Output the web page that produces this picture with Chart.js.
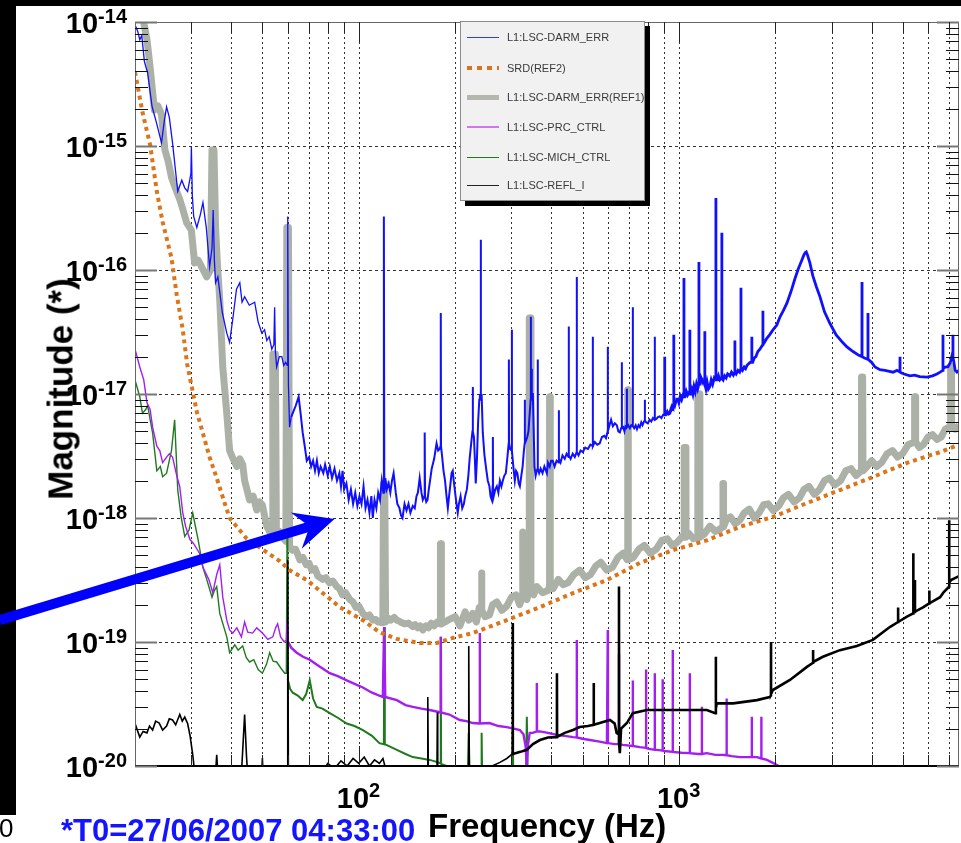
<!DOCTYPE html>
<html>
<head>
<meta charset="utf-8">
<script src="https://cdn.jsdelivr.net/npm/chart.js@4.4.1/dist/chart.umd.min.js"></script>
<style>
  html, body { margin: 0; padding: 0; background: #fff; }
  #wrap { position: relative; width: 961px; height: 843px; overflow: hidden; font-family: "Liberation Sans", Arial, sans-serif; }
  #bandL { position: absolute; left: 0; top: 0; width: 16px; height: 815px; background: #000; }
  #bandT { position: absolute; left: 0; top: 0; width: 961px; height: 6px; background: #000; }
  #c { position: absolute; left: 0; top: 0; }
  #legend { position: absolute; left: 460px; top: 21px; width: 183px; height: 178px; background: #f1f1f1;
            border: 1px solid #8c8c8c; box-shadow: 5px 5px 0 #000; }
  .row { position: absolute; left: 0; height: 14px; width: 183px; }
  .row .smp { position: absolute; left: 6px; width: 32px; }
  .row span { position: absolute; left: 46px; top: 0; font-size: 11px; line-height: 14px; color: #3a3a3a; white-space: nowrap; }
  .txt { position: absolute; white-space: nowrap; font-weight: bold; }
</style>
</head>
<body>
<div id="wrap">
  <div id="bandL"></div>
  <div id="bandT"></div>
  <canvas id="c" width="961" height="843"></canvas>
  <div id="legend"></div>
  <div class="txt" style="left:-1px;top:815px;font-size:26px;line-height:26px;font-weight:normal;color:#000;">0</div>
  <div class="txt" style="left:61px;top:815px;font-size:31px;line-height:31px;color:#1414ff;">*T0=27/06/2007 04:33:00</div>
  <div class="txt" style="left:428px;top:809px;font-size:33px;line-height:33px;color:#000;">Frequency (Hz)</div>
  <div class="txt" id="ytitle" style="left:60px;top:389px;font-size:35px;line-height:35px;color:#000;transform:translate(-50%,-50%) rotate(-90deg);">Magnitude (*)</div>
</div>
<script>
// series names (legend order)
const seriesNames = ['L1:LSC-DARM_ERR', 'SRD(REF2)', 'L1:LSC-DARM_ERR(REF1)', 'L1:LSC-PRC_CTRL', 'L1:LSC-MICH_CTRL', 'L1:LSC-REFL_I'];

// ticks
const xGrid = [30, 40, 50, 60, 70, 80, 90, 100, 200, 300, 400, 500, 600, 700, 800, 900, 1000, 2000, 3000, 4000, 5000, 6000, 7000];
const xLabelTicks = [100, 1000];
const xLabelExp = ['2', '3'];
const yDecades = [1e-20, 1e-19, 1e-18, 1e-17, 1e-16, 1e-15, 1e-14];
const yLabelExp = ['-20', '-19', '-18', '-17', '-16', '-15', '-14'];

// [frequency Hz, magnitude]
const darmErr = [
  [20,9.5e-15],[20.4,8.4e-15],[20.7,7.2e-15],[21.0,7.8e-15],[21.4,4.8e-15],[21.9,3.9e-15],[22.6,2.1e-15],[23.4,1.5e-15],[24.2,1.06e-15],[24.7,1.6e-15],
  [25.1,2.07e-15],[25.6,1.7e-15],[26.2,1.06e-15],[27.2,4.3e-16],[28.0,5.3e-16],[28.6,4.6e-16],[29.2,4.3e-16],[29.9,6e-16],[30.0,9.8e-16],[30.2,4e-16],
  [30.5,2.7e-16],[31.2,2.2e-16],[32.0,2.8e-16],[32.6,3.5e-16],[33.4,2.2e-16],[34.2,1.06e-16],[34.8,1.5e-16],[35.1,3.05e-16],[35.4,1.2e-16],[35.7,7.9e-17],
  [36.3,8.8e-17],[37.5,4.5e-17],[38.7,3.1e-17],[39.5,2.6e-17],[40.5,4.2e-17],[41.5,7e-17],[42.5,7.9e-17],[43.2,5.5e-17],[44.0,6.1e-17],[45.5,5.2e-17],
  [47.3,5.5e-17],[48.5,3.8e-17],[49.8,3.1e-17],[50.8,3.3e-17],[51.6,2.7e-17],[52.5,2.9e-17],[53.5,2.3e-17],[54.3,2.5e-17],[54.6,5.0e-17],[54.9,2.2e-17],
  [55.4,1.65e-17],[56.5,2.0e-17],[57.5,2.0e-17],[58.3,1.7e-17],[59.1,1.8e-17],[59.8,1.7e-17],[60.0,2.7e-16],[60.3,1.2e-17],[60.8,5.4e-18],[61.5,6.5e-18],
  [62.2,7.0e-18],[63.5,8e-18],[64.9,9.5e-18],[65.8,7e-18],[66.8,4.9e-18],[67.8,3.8e-18],[68.8,2.9e-18],[70,3.1e-18],[71,2.6e-18],[72,2.9e-18],
  [73,2.4e-18],[74,2.9e-18],[75,2.3e-18],[76,2.6e-18],[77.5,2.3e-18],[78.5,2.7e-18],[80,2.2e-18],[81.2,2.6e-18],[82.5,2.1e-18],[84,2.5e-18],
  [85.5,2.0e-18],[87,2.3e-18],[88,1.8e-18],[89,2.4e-18],[90,1.7e-18],[91.5,1.9e-18],[93,1.4e-18],[94.5,1.7e-18],[96,1.3e-18],[97.5,1.6e-18],
  [99,1.25e-18],[100.5,1.5e-18],[102,1.3e-18],[103.5,1.8e-18],[105,1.2e-18],[106.5,1.4e-18],[108,1.1e-18],[109.5,1.5e-18],[110.6,1.0e-18],[112,1.4e-18],
  [113.5,1.2e-18],[115,1.6e-18],[116.5,1.4e-18],[118,2.0e-18],[119.4,1.6e-18],[119.8,2.7e-16],[120.2,1.6e-18],[121,2.1e-18],[122.3,1.7e-18],[124,1.9e-18],
  [125.5,1.6e-18],[127,2.0e-18],[128.5,2.3e-18],[130.5,1.6e-18],[132,1.3e-18],[134,1.2e-18],[135.5,1.05e-18],[137,1.0e-18],[139,1.3e-18],[141,1.15e-18],
  [143,1.3e-18],[145,1.1e-18],[147.5,1.25e-18],[149.6,1.2e-18],[151.5,1.5e-18],[153,1.6e-18],[155,2.1e-18],[157,1.6e-18],[158.5,1.4e-18],[160.3,1.5e-18],
  [160.7,4.9e-18],[161.1,1.5e-18],[162.5,1.35e-18],[164,1.4e-18],[165.5,1.7e-18],[167,2.0e-18],[169,2.5e-18],[172,3.0e-18],[175,4.0e-18],[177,3.5e-18],
  [179,3.6e-18],[180.1,3.8e-18],[180.4,4.5e-17],[180.7,3.8e-18],[182,3.2e-18],[184,2.4e-18],[186,2.0e-18],[188,1.5e-18],[189.8,1.2e-18],[191.5,1.5e-18],
  [193,1.8e-18],[195,2.3e-18],[196.6,2.4e-18],[198,2.0e-18],[200,1.6e-18],[202,1.3e-18],[203.8,1.1e-18],[205.5,1.3e-18],[208,1.5e-18],[210.5,1.2e-18],
  [213,1.3e-18],[215,1.5e-18],[217.6,1.7e-18],[220,2.2e-18],[222,3.0e-18],[224.5,4.0e-18],[226.6,5e-18],[227,1.14e-17],[227.4,5e-18],[229,4.5e-18],
  [230.5,3e-18],[232,1.9e-18],[234,3e-18],[236,6e-18],[238,9e-18],[239,1.0e-17],[240.2,9e-18],[240.5,1.75e-16],[240.8,9e-18],[242,1.0e-17],
  [244,4.9e-18],[247,3.2e-18],[250,2.5e-18],[253,2.0e-18],[256,1.8e-18],[258,1.5e-18],[260.4,1.4e-18],[262,1.8e-18],[262.4,4.5e-18],[262.8,1.7e-18],
  [264,1.5e-18],[267,1.7e-18],[270,1.8e-18],[273,1.6e-18],[276,2.0e-18],[279,1.8e-18],[281.8,2.0e-18],[285,2.2e-18],[288,2.3e-18],[291,3.0e-18],
  [294,4e-18],[294.4,1.9e-17],[294.8,4e-18],[297,3.6e-18],[300.3,3.5e-18],[300.7,3.3e-17],[301.1,3.5e-18],[304,2.6e-18],[307.3,2.0e-18],[310,2.4e-18],
  [313,2.3e-18],[316,1.9e-18],[318.6,1.8e-18],[322,2.2e-18],[325,2.6e-18],[328,3.5e-18],[329.9,4e-18],[330.2,9e-18],[330.5,4e-18],[333,4.2e-18],
  [336,4.5e-18],[339,5e-18],[342,7e-18],[344.3,9e-18],[344.7,4.2e-17],[345.1,9e-18],[346.6,1e-17],[347,1.6e-17],[347.4,1e-17],[349.8,1.0e-17],
  [352,5e-18],[354,2.6e-18],[357,2.2e-18],[359.7,2.4e-18],[361.9,2.5e-18],[362.3,1.9e-17],[362.7,2.5e-18],[366,2.3e-18],[370,2.5e-18],[375,2.3e-18],
  [380,2.6e-18],[386.9,2.3e-18],[390,2.8e-18],[395,2.6e-18],[399,2.9e-18],[403.6,2.9e-18],[409,2.6e-18],[415,2.9e-18],[421.3,2.8e-18],[421.7,7.4e-18],
  [422.1,3.0e-18],[427,2.8e-18],[433,3.2e-18],[440,3.0e-18],[446,3.3e-18],[452.5,3.1e-18],[452.9,3.5e-17],[453.3,3.2e-18],[459,3.0e-18],[466,3.3e-18],
  [473,3.1e-18],[479.4,3.4e-18],[479.8,8.8e-17],[480.2,3.4e-18],[486,3.2e-18],[493,3.5e-18],[501,3.4e-18],[510,3.7e-18],[520,3.6e-18],[529,3.9e-18],
  [538,3.8e-18],[538.4,2.9e-17],[538.8,3.8e-18],[546,4.1e-18],[556,3.9e-18],[566,4.0e-18],[575,4.5e-18],[585,4.6e-18],[592,4.4e-18],[599.3,5e-18],
  [599.7,2.4e-17],[600.1,5e-18],[606,5.5e-18],[614,6.2e-18],[622,5.5e-18],[631,5.8e-18],[640,5.6e-18],[647,5.0e-18],[654,4.9e-18],[660,5.3e-18],
  [663.2,5.3e-18],[663.6,1.8e-17],[664,5.3e-18],[670,5.4e-18],[676,5e-18],[681,5.5e-18],[687.6,5.4e-18],[688,1.1e-17],[688.4,5.4e-18],[695,5.6e-18],
  [703,5.3e-18],[710,5.6e-18],[717.6,5.5e-18],[718,5e-17],[718.4,5.5e-18],[725,5.3e-18],[733,5.6e-18],[740,5.2e-18],[748,5.6e-18],[755,5.4e-18],
  [763,5.9e-18],[770,5.6e-18],[778,6e-18],[782.6,6.1e-18],[783,9e-18],[783.4,6.1e-18],[791,5.9e-18],[800,5.8e-18],[810,6.2e-18],[820,6.0e-18],
  [830,6.4e-18],[840.6,6.2e-18],[841,2.9e-17],[841.4,6.2e-18],[850,6.3e-18],[860,6.5e-18],[871,6.6e-18],[882,6.4e-18],[893,6.8e-18],[902.6,6.8e-18],
  [903,2.0e-17],[903.4,6.8e-18],[910,6.8e-18],[920,7.2e-18],[928,6.9e-18],[937,7.0e-18],[945,7.6e-18],[952,8e-18],[958,7.8e-18],[963.6,8e-18],
  [964,3.0e-17],[964.4,8.2e-18],[970,8.0e-18],[980,8.8e-18],[986,9.1e-18],[992,9.1e-18],[1000,8.5e-18],[1010,9.6e-18],[1020,9e-18],[1030,9.8e-18],
  [1036.6,9.5e-18],[1037,8.6e-17],[1037.4,9.5e-18],[1045,9.5e-18],[1055,1.05e-17],[1065,9.8e-18],[1074,1.02e-17],[1081.6,1.0e-17],[1082,3.3e-17],[1082.4,1.0e-17],
  [1090,1.0e-17],[1098,1.08e-17],[1106,1.0e-17],[1115,1.15e-17],[1125,1.05e-17],[1135,1.2e-17],[1145,1.1e-17],[1154.5,1.2e-17],[1155,1.16e-16],[1155.5,1.2e-17],
  [1165,1.2e-17],[1173,1.35e-17],[1180,1.3e-17],[1192,1.25e-17],[1204.5,1.3e-17],[1205,3.2e-17],[1205.5,1.2e-17],[1215,1.1e-17],[1225,1.25e-17],[1237,1.1e-17],
  [1250,1.15e-17],[1262,1.3e-17],[1275,1.2e-17],[1290,1.35e-17],[1304.4,1.3e-17],[1305,3.8e-16],[1305.6,1.3e-17],[1320,1.3e-17],[1330,1.4e-17],[1343,1.3e-17],
  [1361.4,1.35e-17],[1362,2.0e-16],[1362.6,1.35e-17],[1375,1.3e-17],[1390,1.4e-17],[1405,1.35e-17],[1420,1.45e-17],[1442,1.4e-17],[1460,1.5e-17],[1480,1.42e-17],
  [1495.4,1.5e-17],[1496,2.7e-17],[1496.6,1.5e-17],[1510,1.45e-17],[1530,1.55e-17],[1548,1.5e-17],[1562.4,1.6e-17],[1563,7.2e-17],[1563.6,1.6e-17],[1580,1.55e-17],
  [1600,1.65e-17],[1616,1.6e-17],[1632,1.7e-17],[1650,1.75e-17],[1670,1.8e-17],[1689.4,1.8e-17],[1690,2.9e-17],[1690.6,1.8e-17],[1700,1.8e-17],[1720,1.95e-17],
  [1740,2.0e-17],[1765,2.2e-17],[1791,2.3e-17],[1810,2.4e-17],[1829.4,2.5e-17],[1830,4.7e-17],[1830.6,2.5e-17],[1850,2.6e-17],[1880,2.8e-17],[1920,3.0e-17],
  [1970,3.3e-17],[2023,3.6e-17],[2070,4.2e-17],[2120,4.7e-17],[2175,5.4e-17],[2240,6.7e-17],[2304,8.5e-17],[2360,1.02e-16],[2421,1.2e-16],[2460,1.33e-16],
  [2480,1.38e-16],[2500,1.4e-16],[2520,1.33e-16],[2566,1.14e-16],[2620,9e-17],[2690,7.3e-17],[2758,6.1e-17],[2850,4.6e-17],[2965,3.7e-17],[3100,3.0e-17],
  [3250,2.6e-17],[3350,2.4e-17],[3500,2.2e-17],[3650,2.05e-17],[3732,2.0e-17],[3733,8e-17],[3734,2.0e-17],[3800,1.95e-17],[3896,1.9e-17],[3897,4.5e-17],
  [3898,1.9e-17],[4000,1.8e-17],[4100,1.65e-17],[4247,1.57e-17],[4400,1.55e-17],[4550,1.52e-17],[4666,1.5e-17],[4800,1.55e-17],[4906,1.5e-17],[4907,2.0e-17],
  [4908,1.5e-17],[5050,1.45e-17],[5272,1.4e-17],[5450,1.42e-17],[5650,1.38e-17],[5957,1.37e-17],[6200,1.4e-17],[6400,1.45e-17],[6546,1.5e-17],[6682,1.55e-17],
  [6683,3.0e-17],[6684,1.6e-17],[6800,1.65e-17],[6929,1.66e-17],[7050,1.8e-17],[7179,2.2e-17],[7180,3.0e-17],[7181,2.0e-17],[7300,1.55e-17],[7390,1.5e-17],
  [7500,1.55e-17]
];

const srdRef2 = [
  [20,3.95e-15],[21.1,1.88e-15],[22.3,1.02e-15],[23.4,4.3e-16],[24.4,2.44e-16],[26.0,1.25e-16],[27.0,6.3e-17],[28.2,3.3e-17],[29.1,1.75e-17],[30.4,1.0e-17],
  [31.2,7.2e-18],[32.6,4.8e-18],[34.2,3.1e-18],[36.0,2.1e-18],[38.0,1.35e-18],[39.5,1.0e-18],[41.6,8.5e-19],[44.7,6.8e-19],[50,5.6e-19],[56.6,4.5e-19],
  [60.8,3.8e-19],[68.8,3.16e-19],[77.2,2.48e-19],[87.3,1.91e-19],[103,1.5e-19],[116,1.2e-19],[131.5,1.06e-19],[155,9.8e-20],[175,9.8e-20],[197,1.08e-19],
  [227,1.18e-19],[290,1.5e-19],[368,1.91e-19],[467,2.48e-19],[596,3.16e-19],[755,4.34e-19],[957,5.5e-19],[1223,6.6e-19],[1552,8.5e-19],[1966,1.02e-18],
  [2512,1.32e-18],[3184,1.68e-18],[4036,2.14e-18],[5158,2.78e-18],[6546,3.4e-18],[7500,3.9e-18]
];

const darmErrRef1 = [
  [20,1.3e-14],[21.0,1.2e-14],[21.8,7.2e-15],[22.3,4.3e-15],[23.0,1.95e-15],[23.6,2.1e-15],[24.2,1.8e-15],[24.8,9.3e-16],[25.4,7.5e-16],[26.0,5.6e-16],
  [26.8,4.5e-16],[27.6,3.7e-16],[28.3,3.0e-16],[29.0,2.4e-16],[30,2.1e-16],[30.7,1.14e-16],[31.5,1.2e-16],[32.3,1.06e-16],[33.5,8.8e-17],[34.4,1.0e-16],
  [34.8,9.3e-16],[35.3,9.3e-16],[35.7,2.2e-16],[36.2,1.1e-16],[36.8,5.7e-17],[37.6,1.65e-17],[38.7,7e-18],[39.5,3.5e-18],[40.5,3.0e-18],[41.6,2.6e-18],
  [42.5,3.0e-18],[43.4,2.7e-18],[44.0,2.0e-18],[45.6,1.4e-18],[46.8,1.5e-18],[48.0,1.16e-18],[49,1.35e-18],[50,1.27e-18],[51.6,8.6e-19],[52.7,7.7e-19],
  [53.6,7.5e-19],[53.9,2.1e-17],[54.9,2.1e-17],[55.3,7.5e-19],[56.5,7.8e-19],[57.5,7.1e-19],[59.2,6.5e-19],[59.6,2.2e-16],[60.3,2.2e-16],[60.8,6e-19],
  [62,5.5e-19],[63.5,5.6e-19],[65.5,4.6e-19],[67,4.8e-19],[68.5,4.2e-19],[70,4.3e-19],[71.3,3.8e-19],[73,3.9e-19],[74.5,3.4e-19],[77.2,3.2e-19],
  [79,3.3e-19],[81,3.0e-19],[83,3.1e-19],[85.3,2.8e-19],[87,2.7e-19],[89,2.4e-19],[91,2.5e-19],[93.7,2.2e-19],[96,2.1e-19],[98,1.9e-19],
  [100,1.95e-19],[103,1.7e-19],[106,1.6e-19],[108,1.65e-19],[110.6,1.5e-19],[113,1.52e-19],[115,1.45e-19],[118.9,1.43e-19],[119.5,1.9e-18],[120.6,1.9e-18],
  [121.3,1.45e-19],[124,1.55e-19],[126,1.5e-19],[129,1.58e-19],[131.5,1.5e-19],[135,1.45e-19],[139,1.4e-19],[143,1.42e-19],[147.5,1.33e-19],[150,1.38e-19],
  [153,1.3e-19],[155.5,1.35e-19],[158.5,1.25e-19],[162,1.35e-19],[165,1.3e-19],[168.5,1.42e-19],[172,1.35e-19],[176,1.45e-19],[179.6,1.4e-19],[180,6.2e-19],
  [180.8,6.2e-19],[181.2,1.4e-19],[186,1.45e-19],[190,1.5e-19],[200,1.6e-19],[207,1.35e-19],[215,1.75e-19],[221,1.5e-19],[227,1.7e-19],[233,1.45e-19],
  [238,1.9e-19],[241.6,1.8e-19],[242,3.6e-19],[242.4,1.8e-19],[248,1.6e-19],[256,1.65e-19],[262,2.0e-19],[270,2.1e-19],[280,1.8e-19],[290,1.95e-19],
  [300,2.3e-19],[310,2.4e-19],[318,2.0e-19],[324.5,2.3e-19],[325,7.7e-19],[325.5,2.3e-19],[335,2.2e-19],[340.5,2.6e-19],[341,4.1e-17],[344.5,4.1e-17],
  [345,2.6e-19],[352,2.4e-19],[360,2.8e-19],[375,2.5e-19],[390,2.6e-19],[394,2.8e-19],[394.5,9.5e-18],[396,9.5e-18],[396.5,2.8e-19],[405,2.7e-19],
  [420,3.2e-19],[435,2.9e-19],[450,3.0e-19],[470,3.5e-19],[490,3.8e-19],[510,3.3e-19],[530,3.5e-19],[550,4.1e-19],[570,4.4e-19],[595,3.8e-19],
  [620,4.0e-19],[645,4.8e-19],[670,5.2e-19],[690,4.6e-19],[692,4.6e-19],[692.5,1.08e-17],[694.5,1.08e-17],[695,4.6e-19],[720,4.8e-19],[750,5.6e-19],
  [780,6.0e-19],[815,5.2e-19],[850,5.6e-19],[885,6.6e-19],[920,6.8e-19],[955,6.0e-19],[990,6.4e-19],[1030,7.2e-19],[1038,7.0e-19],[1039,3.7e-18],
  [1052,3.7e-18],[1053,7.0e-19],[1070,7.6e-19],[1110,6.8e-19],[1145,7.0e-19],[1146,1.0e-17],[1162,1.0e-17],[1163,7.0e-19],[1200,7.4e-19],[1250,8.6e-19],
  [1300,7.8e-19],[1350,8.2e-19],[1372,8.5e-19],[1373,1.9e-18],[1378,1.9e-18],[1379,8.5e-19],[1410,9.8e-19],[1450,1.02e-18],[1500,9.0e-19],[1550,9.6e-19],
  [1600,1.1e-18],[1660,1.18e-18],[1720,1.0e-18],[1780,1.1e-18],[1840,1.28e-18],[1900,1.3e-18],[1970,1.15e-18],[2050,1.25e-18],[2120,1.45e-18],[2200,1.55e-18],
  [2290,1.35e-18],[2380,1.45e-18],[2460,1.7e-18],[2550,1.8e-18],[2650,1.55e-18],[2750,1.7e-18],[2850,2.0e-18],[2950,2.1e-18],[3070,1.85e-18],[3200,2.0e-18],
  [3320,2.4e-18],[3450,2.5e-18],[3580,2.2e-18],[3710,2.4e-18],[3720,1.37e-17],[3750,1.37e-17],[3760,2.4e-18],[3870,2.6e-18],[4000,2.9e-18],[4150,2.6e-18],
  [4300,2.8e-18],[4470,3.3e-18],[4650,3.5e-18],[4820,3.1e-18],[5000,3.3e-18],[5200,3.9e-18],[5440,4.1e-18],[5450,9.5e-18],[5480,9.5e-18],[5490,4.1e-18],
  [5640,3.7e-18],[5800,3.9e-18],[6000,4.5e-18],[6200,4.7e-18],[6400,4.3e-18],[6600,4.5e-18],[6800,5.2e-18],[7050,5.5e-18],[7060,1.66e-17],[7100,1.66e-17],
  [7110,5.4e-18],[7300,5.2e-18],[7500,5.6e-18]
];

const prcCtrl = [
  [20,2.3e-17],[20.7,1.65e-17],[21.3,1.3e-17],[21.8,8.5e-18],[22.3,7.5e-18],[22.7,5.4e-18],[23.4,3.8e-18],[23.9,3.5e-18],[24.4,2.8e-18],[25.1,3.1e-18],
  [25.6,3.3e-18],[26.2,3.1e-18],[27.0,2.2e-18],[27.6,1.78e-18],[28.2,1.1e-18],[28.8,8.5e-19],[29.7,6.7e-19],[30.5,6.2e-19],[31.8,5.2e-19],[32.6,4.0e-19],
  [34.0,3.2e-19],[35.0,2.5e-19],[36.0,3.5e-19],[36.8,4.2e-19],[37.6,2.3e-19],[38.7,1.5e-19],[39.5,1.25e-19],[40.4,1.18e-19],[41.6,1.3e-19],[43,1.1e-19],
  [44.0,1.45e-19],[45,1.2e-19],[46.6,1.18e-19],[48,1.3e-19],[50,1.18e-19],[52,1.05e-19],[53.9,1.1e-19],[55.0,1.3e-19],[55.8,1.4e-19],[57,1.1e-19],
  [58.5,1.0e-19],[59.4,1.04e-19],[59.7,1.5e-19],[60.2,1.0e-19],[61.5,9e-20],[64,8.2e-20],[67,7.6e-20],[70.3,7.2e-20],[75,6.4e-20],[81.2,5.6e-20],
  [86,5.3e-20],[91.7,4.9e-20],[97,4.6e-20],[103,4.3e-20],[110,3.9e-20],[118.9,3.6e-20],[120,1.32e-19],[121,3.6e-20],[131.5,3.4e-20],[140,3.1e-20],
  [147.5,3.0e-20],[157,2.9e-20],[166.6,2.83e-20],[175,2.75e-20],[180,2.7e-20],[180.4,1.1e-19],[180.8,2.7e-20],[192,2.6e-20],[206.8,2.35e-20],[217,2.3e-20],
  [227,2.22e-20],[238.5,2.2e-20],[238.8,1.18e-19],[239.1,2.2e-20],[256,2.22e-20],[273,2.1e-20],[290,2.06e-20],[305,2.0e-20],[318.6,1.95e-20],[327,1.8e-20],
  [332,1.45e-20],[335,1.0e-20],[338,1.5e-20],[342,1.85e-20],[349.8,1.85e-20],[359.5,1.9e-20],[360,4.67e-20],[360.5,1.9e-20],[368,1.9e-20],[390,1.85e-20],
  [416,1.78e-20],[440,1.75e-20],[467,1.71e-20],[479.5,1.7e-20],[479.8,1.04e-19],[480.1,1.7e-20],[500,1.66e-20],[527,1.62e-20],[560,1.58e-20],[596,1.53e-20],
  [599.7,1.25e-19],[600.3,1.53e-20],[630,1.5e-20],[649.7,1.5e-20],[650,8e-20],[650.3,1.5e-20],[668,1.48e-20],[717.7,1.45e-20],[718,4.9e-20],[718.3,1.45e-20],
  [755,1.42e-20],[789.7,1.4e-20],[790,6e-20],[790.3,1.4e-20],[800,1.38e-20],[840.7,1.35e-20],[841,5.6e-20],[841.3,1.35e-20],[853,1.35e-20],[889.7,1.33e-20],
  [890,5e-20],[890.3,1.33e-20],[900,1.32e-20],[956.7,1.3e-20],[957,8.6e-20],[957.3,1.3e-20],[1020,1.28e-20],[1081.7,1.27e-20],[1082,5.6e-20],[1082.3,1.27e-20],
  [1150,1.25e-20],[1179.5,1.25e-20],[1180,3e-20],[1180.5,1.25e-20],[1223,1.27e-20],[1300,1.23e-20],[1373,1.23e-20],[1409.5,1.22e-20],[1410,3.5e-20],[1410.5,1.22e-20],
  [1460,1.2e-20],[1552,1.18e-20],[1650,1.18e-20],[1689.5,1.18e-20],[1690,2.5e-20],[1690.5,1.18e-20],[1754,1.18e-20],[1809.5,1.15e-20],[1810,2.5e-20],[1810.5,1.15e-20],
  [1884,1.12e-20],[1966,1.06e-20],[2050,1.0e-20],[2113,0.95e-20],[2223,0.8e-20]
];

const michCtrl = [
  [20,1.3e-17],[20.7,9.5e-18],[21.1,7.0e-18],[21.6,7.5e-18],[21.9,8.1e-18],[22.3,6.2e-18],[22.7,4.85e-18],[23.4,2.4e-18],[24.0,2.6e-18],[24.4,2.15e-18],
  [25.1,2.3e-18],[26.0,3.5e-18],[26.6,6.2e-18],[27.2,1.68e-18],[27.9,1.0e-18],[28.6,7.1e-19],[29.5,8e-19],[30.3,1.1e-18],[30.9,8.5e-19],[31.5,6.65e-19],
  [32.6,4.0e-19],[33.5,3.2e-19],[34.8,2.3e-19],[35.4,2.6e-19],[36.0,2.8e-19],[36.8,1.7e-19],[37.8,1.35e-19],[38.7,1.1e-19],[39.5,8.2e-20],[41,9.5e-20],
  [42,8.6e-20],[43.4,9.3e-20],[44.5,7.5e-20],[45.6,6.9e-20],[47,7.2e-20],[48.5,6.0e-20],[50,5.6e-20],[51.5,6.6e-20],[52.7,8.2e-20],[54,7e-20],
  [55.4,6.9e-20],[57,6.2e-20],[58.7,5.6e-20],[59.4,5.6e-20],[59.7,7.1e-19],[60.0,5e-20],[61,4.2e-20],[62.2,3.9e-20],[64.5,3.7e-20],[66.8,3.4e-20],
  [68.5,3.8e-20],[70.3,4.9e-20],[72,3.5e-20],[73.9,3.0e-20],[77,2.9e-20],[81.2,2.67e-20],[86,2.45e-20],[91.7,2.2e-20],[97,2.1e-20],[103,1.95e-20],
  [110,1.75e-20],[116,1.53e-20],[119.8,1.5e-20],[120.2,1.32e-19],[120.6,1.5e-20],[131.5,1.35e-20],[140,1.25e-20],[147.5,1.18e-20],[157,1.15e-20],[166.6,1.12e-20],
  [175,1.08e-20],[180,1.05e-20],[180.4,1.1e-19],[180.8,1.04e-20],[192,0.98e-20],[200,0.9e-20],[219,0.8e-20],[220.6,1.85e-20],[222,0.8e-20],[241,0.8e-20],
  [242,1.85e-20],[243,0.8e-20],[301,0.8e-20],[302.6,2.1e-20],[304,0.8e-20],[333,0.8e-20],[335,2.5e-20],[337,0.8e-20],[400,0.7e-20]
];

const reflI = [
  [20,2.2e-20],[20.7,1.71e-20],[21.2,1.9e-20],[21.8,1.85e-20],[22.2,2.1e-20],[22.7,1.95e-20],[23.2,2.3e-20],[23.8,2.22e-20],[24.4,1.95e-20],[25.1,2.1e-20],
  [25.6,2.4e-20],[26.2,2.35e-20],[26.8,2.15e-20],[27.6,2.6e-20],[28.1,2.3e-20],[28.6,2.48e-20],[29.2,2.2e-20],[29.7,1.77e-20],[30.3,1.23e-20],[30.7,0.9e-20],
  [31.5,0.7e-20],[35.5,0.7e-20],[36.0,1.23e-20],[36.5,0.7e-20],[42.8,0.7e-20],[43.3,1.2e-20],[44.0,2.6e-20],[44.6,1.2e-20],[45.2,0.7e-20],[49.6,0.7e-20],
  [50,1.16e-20],[50.4,0.7e-20],[59.7,0.7e-20],[60,4.6e-19],[60.3,0.7e-20],[75,0.8e-20],[80,1.05e-20],[84,0.95e-20],[88,1.1e-20],[92,1.0e-20],
  [96,1.15e-20],[100,1.05e-20],[104,1.18e-20],[108,1.0e-20],[112,1.12e-20],[116,1.05e-20],[119,1.15e-20],[122,0.9e-20],[130,0.85e-20],[163.5,0.85e-20],
  [164.3,3.6e-20],[165,0.85e-20],[175.5,0.85e-20],[176,2.7e-20],[176.5,0.85e-20],[219.5,0.85e-20],[220.6,9.3e-20],[221.5,0.9e-20],[250,0.95e-20],[276,1.07e-20],
  [290,1.15e-20],[302,1.25e-20],[302.6,1.42e-19],[303.2,1.25e-20],[320,1.3e-20],[335,1.35e-20],[350,1.5e-20],[368,1.62e-20],[390,1.7e-20],[415.5,1.71e-20],
  [416,5.6e-20],[416.5,1.72e-20],[440,1.85e-20],[467,1.95e-20],[490,2.06e-20],[520,2.1e-20],[541.5,2.15e-20],[542,4.67e-20],[542.5,2.15e-20],[566,2.22e-20],
  [609,2.35e-20],[630,2.2e-20],[639,1.85e-20],[649.5,1.8e-20],[650,2.8e-19],[650.5,1.5e-20],[654,1.27e-20],[660,2.0e-20],[688,2.22e-20],[718,2.67e-20],
  [794,2.83e-20],[915,2.83e-20],[1082,2.83e-20],[1223,2.83e-20],[1298,2.67e-20],[1304.5,2.7e-20],[1305,7.6e-20],[1305.5,2.9e-20],[1313,3.2e-20],[1478,3.2e-20],
  [1754,3.4e-20],[1922,3.6e-20],[1939.5,3.7e-20],[1940,1.0e-19],[1940.5,3.8e-20],[1966,4.1e-20],[2223,4.94e-20],[2512,6.3e-20],[2625.5,6.8e-20],[2626,8.6e-20],
  [2626.5,6.9e-20],[2818,7.6e-20],[3184,8.6e-20],[3597,9.3e-20],[4036,1.04e-19],[4560,1.32e-19],[4839.5,1.45e-19],[4840,1.9e-19],[4840.5,1.45e-19],[5158,1.6e-19],
  [5399,1.7e-19],[5400,5.2e-19],[5401,1.72e-19],[5463,1.75e-19],[5464,3.16e-19],[5465,1.76e-19],[5788,1.9e-19],[6059,2.05e-19],[6060,2.6e-19],[6061,2.05e-19],
  [6546,2.3e-19],[6700,2.5e-19],[6989,2.8e-19],[6990,9.6e-19],[6991,3.0e-19],[7080,3.16e-19],[7500,3.4e-19]
];

// arrow annotation, in data units: tail (off the left edge) and tip
const arrowTail = [7.55, 1.5e-19];
const arrowTip = [84, 9.8e-19];

const FONT = '"Liberation Sans", Arial, sans-serif';

function pts(arr) {
  return arr.slice().sort((a, b) => a[0] - b[0]).map(p => ({ x: p[0], y: p[1] }));
}

// legend (html)
const legendSamples = [
  { h: 1, css: 'background:#2b3cff;' },
  { h: 4, css: 'background:repeating-linear-gradient(90deg,#d9741c 0 5px,transparent 5px 10px);' },
  { h: 5, css: 'background:#b3b8ae;' },
  { h: 2, css: 'background:#cf78ec;' },
  { h: 1, css: 'background:#1e7a1e;' },
  { h: 1, css: 'background:#222;' }
];
const legendRowY = [15, 46, 75, 105, 135, 163];
const lg = document.getElementById('legend');
seriesNames.forEach((name, i) => {
  const row = document.createElement('div');
  row.className = 'row';
  row.style.top = (legendRowY[i] - 7) + 'px';
  const smp = document.createElement('div');
  smp.className = 'smp';
  smp.style.cssText = legendSamples[i].css + 'height:' + legendSamples[i].h + 'px;top:' + Math.round(7 - legendSamples[i].h / 2) + 'px;';
  const sp = document.createElement('span');
  sp.textContent = name;
  row.appendChild(smp);
  row.appendChild(sp);
  lg.appendChild(row);
});

function line(ctx, x1, y1, x2, y2) {
  ctx.beginPath(); ctx.moveTo(x1, y1); ctx.lineTo(x2, y2); ctx.stroke();
}

function drawPower(ctx, left, base, exp, baseY, expY) {
  ctx.font = 'bold 29px ' + FONT;
  ctx.fillText(base, left, baseY);
  const w = ctx.measureText(base).width;
  ctx.font = 'bold 20px ' + FONT;
  ctx.fillText(exp, left + w, expY);
}

function powerWidth(ctx, base, exp) {
  ctx.font = 'bold 29px ' + FONT;
  const w1 = ctx.measureText(base).width;
  ctx.font = 'bold 20px ' + FONT;
  return w1 + ctx.measureText(exp).width;
}

const framePlugin = {
  id: 'frame',
  beforeDatasetsDraw(chart) {
    const { ctx, chartArea: a, scales: { x, y } } = chart;
    ctx.save();
    ctx.lineWidth = 1;
    ctx.strokeStyle = '#333';
    ctx.setLineDash([2, 3]);
    xGrid.forEach(v => {
      const px = Math.round(x.getPixelForValue(v)) + 0.5;
      line(ctx, px, a.top, px, a.bottom);
    });
    ctx.setLineDash([3, 3]);
    yDecades.slice(1, -1).forEach(v => {
      const py = Math.round(y.getPixelForValue(v)) + 0.5;
      line(ctx, a.left, py, a.right, py);
    });
    ctx.restore();
  },
  afterDraw(chart) {
    const { ctx, chartArea: a, scales: { x, y } } = chart;
    ctx.save();
    ctx.setLineDash([]);
    // frame
    ctx.strokeStyle = '#666';
    ctx.lineWidth = 1;
    ctx.strokeRect(a.left + 0.5, a.top + 0.5, a.right - a.left - 1, a.bottom - a.top - 1);
    ctx.strokeStyle = '#000';
    ctx.lineWidth = 2;
    line(ctx, a.left, a.bottom, a.right, a.bottom);

    // y ticks
    yDecades.forEach((d, i) => {
      const py = Math.round(y.getPixelForValue(d)) + 0.5;
      ctx.strokeStyle = '#777';
      ctx.lineWidth = 2;
      line(ctx, a.left, py, a.left + 22, py);
      line(ctx, a.right - 22, py, a.right, py);
      if (i < yDecades.length - 1) {
        ctx.strokeStyle = '#111';
        ctx.lineWidth = 1;
        for (let m = 2; m <= 9; m++) {
          const pm = Math.round(y.getPixelForValue(d * m)) + 0.5;
          line(ctx, a.left, pm, a.left + 13, pm);
          line(ctx, a.right - 13, pm, a.right, pm);
        }
      }
    });
    // x ticks
    ctx.strokeStyle = '#222';
    ctx.lineWidth = 1;
    xGrid.forEach(v => {
      const px = Math.round(x.getPixelForValue(v)) + 0.5;
      const len = xLabelTicks.includes(v) ? 20 : 11;
      line(ctx, px, a.top, px, a.top + len);
      line(ctx, px, a.bottom, px, a.bottom - len);
    });

    // tick labels
    ctx.fillStyle = '#000';
    ctx.textBaseline = 'alphabetic';
    ctx.textAlign = 'left';
    yDecades.forEach((d, i) => {
      const py = y.getPixelForValue(d);
      const w = powerWidth(ctx, '10', yLabelExp[i]);
      drawPower(ctx, 127 - w, '10', yLabelExp[i], py + 11, py + 1);
    });
    xLabelTicks.forEach((v, i) => {
      const px = x.getPixelForValue(v);
      drawPower(ctx, px - 22, '10', xLabelExp[i], 808, 797);
    });

    // arrow
    const tx = x.getPixelForValue(arrowTail[0]), ty = y.getPixelForValue(arrowTail[1]);
    const hx = x.getPixelForValue(arrowTip[0]), hy = y.getPixelForValue(arrowTip[1]);
    const dx = hx - tx, dy = hy - ty, L = Math.hypot(dx, dy);
    const ux = dx / L, uy = dy / L, nx = -uy, ny = ux;
    const notchX = hx - 26 * ux, notchY = hy - 26 * uy;
    ctx.fillStyle = '#0000ff';
    ctx.strokeStyle = '#0000ff';
    ctx.lineWidth = 10;
    ctx.lineCap = 'butt';
    line(ctx, tx, ty, notchX + 2 * ux, notchY + 2 * uy);
    ctx.beginPath();
    ctx.moveTo(hx, hy);
    ctx.lineTo(hx - 40 * ux + 19 * nx, hy - 40 * uy + 19 * ny);
    ctx.lineTo(notchX, notchY);
    ctx.lineTo(hx - 40 * ux - 19 * nx, hy - 40 * uy - 19 * ny);
    ctx.closePath();
    ctx.fill();
    ctx.restore();
  }
};

const base = { pointRadius: 0, tension: 0, fill: false };
// noisy bands look heavier in the reference at higher frequencies
const widthAbove = (cuts) => c => {
  const f = c.p0.parsed.x;
  let w = cuts[0][1];
  cuts.forEach(([lim, wd]) => { if (f >= lim) w = wd; });
  return w;
};

new Chart(document.getElementById('c').getContext('2d'), {
  type: 'line',
  data: {
    datasets: [
      { ...base, label: seriesNames[0], data: pts(darmErr), borderColor: '#1010ff', borderWidth: 1.3, order: 1,
        segment: { borderWidth: widthAbove([[0, 1.3], [61, 2], [900, 2.8]]) } },
      { ...base, label: seriesNames[1], data: pts(srdRef2), borderColor: '#dc7419', borderWidth: 4, borderDash: [4, 4], order: 2 },
      { ...base, label: seriesNames[2], data: pts(darmErrRef1), borderColor: '#acb1a8', borderWidth: 7, borderJoinStyle: 'round', order: 6 },
      { ...base, label: seriesNames[3], data: pts(prcCtrl), borderColor: '#a31ef0', borderWidth: 1.4, order: 4,
        segment: { borderWidth: widthAbove([[0, 1.4], [60, 2.4]]) } },
      { ...base, label: seriesNames[4], data: pts(michCtrl), borderColor: '#1f7a1f', borderWidth: 1.4, order: 5,
        segment: { borderWidth: widthAbove([[0, 1.4], [60, 2]]) } },
      { ...base, label: seriesNames[5], data: pts(reflI), borderColor: '#000000', borderWidth: 1.6, order: 3,
        segment: { borderWidth: widthAbove([[0, 1.6], [300, 2.6]]) } }
    ]
  },
  options: {
    responsive: false,
    animation: false,
    events: [],
    layout: { padding: { left: 135, right: 2, top: 22, bottom: 77 } },
    plugins: { legend: { display: false }, tooltip: { enabled: false } },
    scales: {
      x: { type: 'logarithmic', min: 20, max: 7500, display: false },
      y: { type: 'logarithmic', min: 1e-20, max: 1e-14, display: false }
    }
  },
  plugins: [framePlugin]
});
</script>
</body>
</html>
